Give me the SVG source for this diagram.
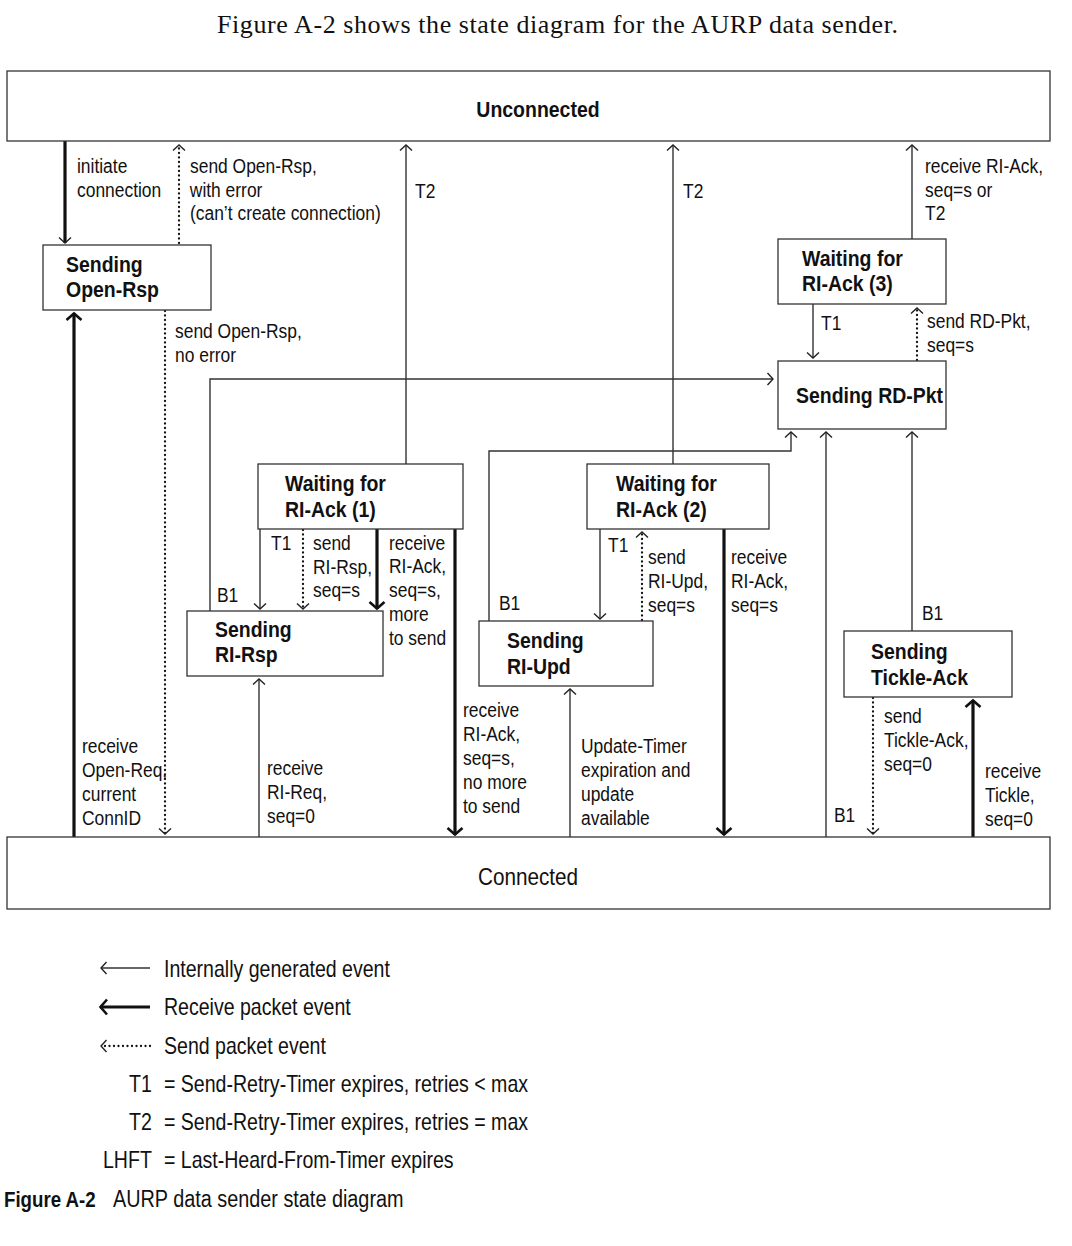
<svg xmlns="http://www.w3.org/2000/svg" width="1072" height="1246" viewBox="0 0 1072 1246">
<style>
.t,.b,.lg,.cb{font-family:"Liberation Sans",Arial,sans-serif;fill:#111;transform-box:fill-box;transform-origin:0% 50%}
.t{font-size:21px;transform:scaleX(0.83)}
.b{font-size:21.5px;font-weight:bold;transform:scaleX(0.905)}
.lg{font-size:23px;transform:scaleX(0.85)}
.cap{transform:scaleX(0.862)}
.cb{font-size:21.5px;font-weight:bold;transform:scaleX(0.87)}
.mid{transform-origin:50% 50%}
.box{fill:#fff;stroke:#333;stroke-width:1.3}
.thin{fill:none;stroke:#333;stroke-width:1.4}
.thick{fill:none;stroke:#111;stroke-width:3.2}
.dot{fill:none;stroke:#111;stroke-width:2.3;stroke-dasharray:0 4.5;stroke-linecap:round}
</style>
<defs>
<marker id="ah" markerUnits="userSpaceOnUse" viewBox="0 0 16 16" markerWidth="16" markerHeight="16" refX="8" refY="8" orient="auto">
<path d="M2.5,2 L8,8 L2.5,14" fill="none" stroke="#222" stroke-width="1.4"/>
</marker>
<marker id="ahb" markerUnits="userSpaceOnUse" viewBox="0 0 20 20" markerWidth="20" markerHeight="20" refX="10" refY="10" orient="auto">
<path d="M3,2.5 L9.5,10 L3,17.5" fill="none" stroke="#111" stroke-width="2.6"/>
</marker>
</defs>
<rect width="1072" height="1246" fill="#fff"/>
<text x="217" y="33" textLength="681" style="font-family:'Liberation Serif','Times New Roman',serif;font-size:26px;fill:#111">Figure A-2 shows the state diagram for the AURP data sender.</text>

<g id="connectors">
<line class="thick" x1="65" y1="141" x2="65" y2="243" marker-end="url(#ah)"/>
<line class="dot" x1="179" y1="243" x2="179" y2="145" marker-end="url(#ah)"/>
<line class="dot" x1="165" y1="311" x2="165" y2="834" marker-end="url(#ah)"/>
<line class="thick" x1="74" y1="837" x2="74" y2="313" marker-end="url(#ahb)"/>
<path class="thin" d="M210,611 V379 H773" marker-end="url(#ah)"/>
<line class="thin" x1="406" y1="464" x2="406" y2="145" marker-end="url(#ah)"/>
<line class="thin" x1="673" y1="464" x2="673" y2="145" marker-end="url(#ah)"/>
<line class="thin" x1="912" y1="239" x2="912" y2="145" marker-end="url(#ah)"/>
<line class="thin" x1="813" y1="304" x2="813" y2="358" marker-end="url(#ah)"/>
<line class="dot" x1="917" y1="360" x2="917" y2="308" marker-end="url(#ah)"/>
<path class="thin" d="M489,621 V451 H791 V432" marker-end="url(#ah)"/>
<line class="thin" x1="826" y1="837" x2="826" y2="432" marker-end="url(#ah)"/>
<line class="thin" x1="912" y1="631" x2="912" y2="432" marker-end="url(#ah)"/>
<line class="thin" x1="260" y1="529" x2="260" y2="609" marker-end="url(#ah)"/>
<line class="dot" x1="303" y1="530" x2="303" y2="609" marker-end="url(#ah)"/>
<line class="thick" x1="377" y1="529" x2="377" y2="609" marker-end="url(#ahb)"/>
<line class="thick" x1="455" y1="529" x2="455" y2="835" marker-end="url(#ahb)"/>
<line class="thin" x1="259" y1="837" x2="259" y2="679" marker-end="url(#ah)"/>
<line class="thin" x1="600" y1="529" x2="600" y2="619" marker-end="url(#ah)"/>
<line class="dot" x1="642" y1="620" x2="642" y2="532" marker-end="url(#ah)"/>
<line class="thick" x1="724" y1="529" x2="724" y2="835" marker-end="url(#ahb)"/>
<line class="thin" x1="570" y1="837" x2="570" y2="689" marker-end="url(#ah)"/>
<line class="dot" x1="873" y1="698" x2="873" y2="834" marker-end="url(#ah)"/>
<line class="thick" x1="973" y1="837" x2="973" y2="700" marker-end="url(#ahb)"/>

<text class="t" x="77" y="173">initiate</text>
<text class="t" x="77" y="197">connection</text>
<text class="t" x="190" y="173">send Open-Rsp,</text>
<text class="t" x="190" y="197">with error</text>
<text class="t" x="190" y="220">(can’t create connection)</text>
<text class="t" x="175" y="338">send Open-Rsp,</text>
<text class="t" x="175" y="362">no error</text>
<text class="t" x="82" y="753">receive</text>
<text class="t" x="82" y="777">Open-Req,</text>
<text class="t" x="82" y="801">current</text>
<text class="t" x="82" y="825">ConnID</text>
<text class="t" x="415" y="198">T2</text>
<text class="t" x="683" y="198">T2</text>
<text class="t" x="925" y="173">receive RI-Ack,</text>
<text class="t" x="925" y="197">seq=s or</text>
<text class="t" x="925" y="220">T2</text>
<text class="t" x="821" y="330">T1</text>
<text class="t" x="927" y="328">send RD-Pkt,</text>
<text class="t" x="927" y="352">seq=s</text>
<text class="t" x="217" y="602">B1</text>
<text class="t" x="271" y="550">T1</text>
<text class="t" x="313" y="550">send</text>
<text class="t" x="313" y="574">RI-Rsp,</text>
<text class="t" x="313" y="597">seq=s</text>
<text class="t" x="389" y="550">receive</text>
<text class="t" x="389" y="573">RI-Ack,</text>
<text class="t" x="389" y="597">seq=s,</text>
<text class="t" x="389" y="621">more</text>
<text class="t" x="389" y="645">to send</text>
<text class="t" x="463" y="717">receive</text>
<text class="t" x="463" y="741">RI-Ack,</text>
<text class="t" x="463" y="765">seq=s,</text>
<text class="t" x="463" y="789">no more</text>
<text class="t" x="463" y="813">to send</text>
<text class="t" x="267" y="775">receive</text>
<text class="t" x="267" y="799">RI-Req,</text>
<text class="t" x="267" y="823">seq=0</text>
<text class="t" x="499" y="610">B1</text>
<text class="t" x="608" y="552">T1</text>
<text class="t" x="648" y="564">send</text>
<text class="t" x="648" y="588">RI-Upd,</text>
<text class="t" x="648" y="612">seq=s</text>
<text class="t" x="731" y="564">receive</text>
<text class="t" x="731" y="588">RI-Ack,</text>
<text class="t" x="731" y="612">seq=s</text>
<text class="t" x="581" y="753">Update-Timer</text>
<text class="t" x="581" y="777">expiration and</text>
<text class="t" x="581" y="801">update</text>
<text class="t" x="581" y="825">available</text>
<text class="t" x="922" y="620">B1</text>
<text class="t" x="834" y="822">B1</text>
<text class="t" x="884" y="723">send</text>
<text class="t" x="884" y="747">Tickle-Ack,</text>
<text class="t" x="884" y="771">seq=0</text>
<text class="t" x="985" y="778">receive</text>
<text class="t" x="985" y="802">Tickle,</text>
<text class="t" x="985" y="826">seq=0</text>
</g>

<g id="unconnected">
<rect class="box" x="7" y="71" width="1043" height="70"/>
<text class="b mid" x="538" y="117" text-anchor="middle">Unconnected</text>
</g>
<g id="sending-open-rsp">
<rect class="box" x="43" y="245" width="168" height="65"/>
<text class="b" x="66" y="272">Sending</text>
<text class="b" x="66" y="297">Open-Rsp</text>
</g>
<g id="waiting-ri-ack-3">
<rect class="box" x="778" y="239" width="168" height="65"/>
<text class="b" x="802" y="266">Waiting for</text>
<text class="b" x="802" y="291">RI-Ack (3)</text>
</g>
<g id="sending-rd-pkt">
<rect class="box" x="778" y="361" width="168" height="68"/>
<text class="b" x="796" y="403">Sending RD-Pkt</text>
</g>
<g id="waiting-ri-ack-1">
<rect class="box" x="258" y="464" width="205" height="65"/>
<text class="b" x="285" y="491">Waiting for</text>
<text class="b" x="285" y="517">RI-Ack (1)</text>
</g>
<g id="waiting-ri-ack-2">
<rect class="box" x="587" y="464" width="182" height="65"/>
<text class="b" x="616" y="491">Waiting for</text>
<text class="b" x="616" y="517">RI-Ack (2)</text>
</g>
<g id="sending-ri-rsp">
<rect class="box" x="187" y="611" width="196" height="65"/>
<text class="b" x="215" y="637">Sending</text>
<text class="b" x="215" y="662">RI-Rsp</text>
</g>
<g id="sending-ri-upd">
<rect class="box" x="479" y="621" width="174" height="65"/>
<text class="b" x="507" y="648">Sending</text>
<text class="b" x="507" y="674">RI-Upd</text>
</g>
<g id="sending-tickle-ack">
<rect class="box" x="844" y="631" width="168" height="66"/>
<text class="b" x="871" y="659">Sending</text>
<text class="b" x="871" y="685">Tickle-Ack</text>
</g>
<g id="connected">
<rect class="box" x="7" y="837" width="1043" height="72"/>
<text class="lg mid" x="528" y="885" text-anchor="middle" style="transform:scaleX(0.9)">Connected</text>
</g>

<g id="legend">
<line class="thin" x1="150" y1="968" x2="101" y2="968" marker-end="url(#ah)"/>
<line class="thick" x1="150" y1="1007" x2="100" y2="1007" marker-end="url(#ahb)"/>
<line class="dot" x1="150" y1="1046" x2="101" y2="1046" marker-end="url(#ah)"/>
<text class="lg" x="164" y="977">Internally generated event</text>
<text class="lg" x="164" y="1015">Receive packet event</text>
<text class="lg" x="164" y="1054">Send packet event</text>
<text class="lg" x="129" y="1092">T1</text>
<text class="lg" x="164" y="1092">= Send-Retry-Timer expires, retries &lt; max</text>
<text class="lg" x="129" y="1130">T2</text>
<text class="lg" x="164" y="1130">= Send-Retry-Timer expires, retries = max</text>
<text class="lg" x="103" y="1168">LHFT</text>
<text class="lg" x="164" y="1168">= Last-Heard-From-Timer expires</text>
<text class="cb" x="4" y="1207">Figure A-2</text>
<text class="lg cap" x="113" y="1207">AURP data sender state diagram</text>
</g>
</svg>
